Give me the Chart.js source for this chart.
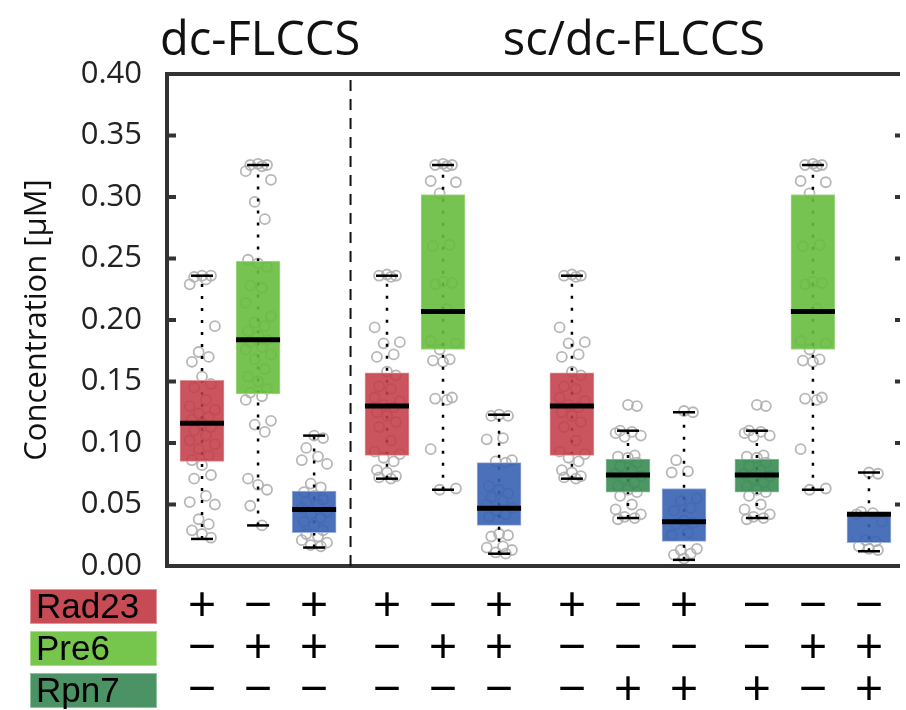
<!DOCTYPE html>
<html>
<head>
<meta charset="utf-8">
<script src="https://cdn.jsdelivr.net/npm/chart.js@4.4.1/dist/chart.umd.min.js"></script>
<style>
    html, body { margin: 0; padding: 0; background: #fff; }
    #wrap { width: 906px; height: 710px; }
</style>
</head>
<body>
<div id="wrap"><canvas id="chart" width="906" height="710"></canvas></div>
<script>
// ---------------------------------------------
// DATA
// ---------------------------------------------
const panelTitles = ["dc-FLCCS", "sc/dc-FLCCS"];
const yTickValues = [0.00, 0.05, 0.10, 0.15, 0.20, 0.25, 0.30, 0.35, 0.40];

// which group each box sits in, and which protein it measures
const boxGroup = [0, 0, 0, 1, 1, 1, 2, 2, 2, 3, 3, 3];
const boxMeasured = ["Rad23", "Pre6", "complex", "Rad23", "Pre6", "complex",
                     "Rad23", "Rpn7", "complex", "Rpn7", "Pre6", "complex"];

// box statistics
const q1          = [0.085, 0.140, 0.027, 0.090, 0.176, 0.033, 0.090, 0.060, 0.020, 0.060, 0.176, 0.019];
const medians     = [0.116, 0.184, 0.046, 0.130, 0.207, 0.047, 0.130, 0.074, 0.036, 0.074, 0.207, 0.042];
const q3          = [0.151, 0.248, 0.061, 0.157, 0.302, 0.084, 0.157, 0.087, 0.063, 0.087, 0.302, 0.042];
const whiskerLow  = [0.022, 0.033, 0.015, 0.071, 0.062, 0.010, 0.071, 0.039, 0.005, 0.039, 0.062, 0.012];
const whiskerHigh = [0.236, 0.326, 0.106, 0.236, 0.326, 0.123, 0.236, 0.110, 0.125, 0.110, 0.326, 0.076];

// individual measurements
const rad23Dc = [0.236, 0.236, 0.235, 0.233, 0.229, 0.195, 0.174, 0.170, 0.166, 0.154, 0.148, 0.145,
                 0.135, 0.130, 0.127, 0.124, 0.121, 0.119, 0.116, 0.113, 0.110, 0.106, 0.102, 0.099,
                 0.095, 0.090, 0.086, 0.082, 0.074, 0.071, 0.057, 0.052, 0.050, 0.038, 0.034, 0.029,
                 0.026, 0.023];
const pre6Dc = [0.327, 0.326, 0.326, 0.325, 0.321, 0.314, 0.296, 0.282, 0.249, 0.246, 0.243, 0.228,
                0.226, 0.214, 0.203, 0.198, 0.195, 0.191, 0.187, 0.184, 0.182, 0.178, 0.176, 0.172,
                0.168, 0.160, 0.154, 0.150, 0.144, 0.141, 0.138, 0.135, 0.118, 0.115, 0.109, 0.071,
                0.066, 0.062, 0.049, 0.033];
const rad23Pre6Dc = [0.106, 0.104, 0.096, 0.089, 0.086, 0.083, 0.067, 0.064, 0.060, 0.057, 0.054, 0.052,
                     0.050, 0.047, 0.044, 0.042, 0.039, 0.036, 0.033, 0.029, 0.026, 0.024, 0.021, 0.019,
                     0.017, 0.016];
const rad23Sc = [0.237, 0.236, 0.236, 0.235, 0.194, 0.182, 0.181, 0.172, 0.170, 0.158, 0.155, 0.146,
                 0.144, 0.137, 0.134, 0.131, 0.129, 0.125, 0.122, 0.117, 0.113, 0.102, 0.093, 0.091,
                 0.088, 0.085, 0.078, 0.076, 0.073, 0.072, 0.071];
const pre6Sc = [0.327, 0.326, 0.326, 0.325, 0.313, 0.312, 0.303, 0.261, 0.260, 0.231, 0.230, 0.229,
                0.209, 0.183, 0.181, 0.176, 0.168, 0.167, 0.166, 0.137, 0.136, 0.135, 0.095, 0.063,
                0.062];
const rad23Pre6Sc = [0.123, 0.122, 0.122, 0.104, 0.103, 0.086, 0.085, 0.084, 0.065, 0.062, 0.059, 0.056,
                     0.053, 0.050, 0.047, 0.045, 0.042, 0.040, 0.026, 0.025, 0.024, 0.016, 0.015, 0.013,
                     0.011, 0.010];
const rpn7Sc = [0.131, 0.130, 0.110, 0.109, 0.108, 0.106, 0.105, 0.090, 0.089, 0.088, 0.084, 0.081,
                0.078, 0.075, 0.073, 0.071, 0.068, 0.065, 0.062, 0.060, 0.057, 0.050, 0.046, 0.042,
                0.040, 0.039, 0.038];
const rad23Rpn7Sc = [0.126, 0.125, 0.086, 0.077, 0.076, 0.055, 0.053, 0.047, 0.045, 0.037, 0.035, 0.034,
                     0.027, 0.025, 0.014, 0.013, 0.010, 0.009, 0.006];
const pre6Rpn7Sc = [0.076, 0.075, 0.044, 0.043, 0.042, 0.036, 0.021, 0.020, 0.016, 0.014, 0.013];

const boxPoints = [rad23Dc, pre6Dc, rad23Pre6Dc, rad23Sc, pre6Sc, rad23Pre6Sc,
                   rad23Sc, rpn7Sc, rad23Rpn7Sc, rpn7Sc, pre6Sc, pre6Rpn7Sc];

// +/- table under the plot
const rowLabels = ["Rad23", "Pre6", "Rpn7"];
const rad23Signs = ["+", "−", "+", "+", "−", "+", "+", "−", "+", "−", "−", "−"];
const pre6Signs  = ["−", "+", "+", "−", "+", "+", "−", "−", "−", "−", "+", "+"];
const rpn7Signs  = ["−", "−", "−", "−", "−", "−", "−", "+", "+", "+", "−", "+"];

// ---------------------------------------------
// STYLE
// ---------------------------------------------
const COLORS = {
    Rad23:   { fill: "rgba(196, 62, 72, 0.88)",  edge: "#e0959b", label: "#c74b55" },
    Pre6:    { fill: "rgba(104, 188, 62, 0.90)", edge: "#a9dd8f", label: "#76c64e" },
    Rpn7:    { fill: "rgba(58, 140, 84, 0.90)",  edge: "#8fc39f", label: "#4b9364" },
    complex: { fill: "rgba(56, 98, 180, 0.90)",  edge: "#9db3de", label: "#3e66b4" }
};
const JITTER = [0, 0.16, -0.14, 0.07, -0.22, 0.23, -0.06, 0.12, -0.18];
const FONT = "'Open Sans', 'DejaVu Sans', sans-serif";

const positions = boxGroup.map((g, i) => i + 0.3 * g);

// ---------------------------------------------
// BUILD DATASETS
// ---------------------------------------------
const pointData = [];
boxPoints.forEach((vals, i) => {
    vals.forEach((v, k) => pointData.push({ x: positions[i] + JITTER[k % JITTER.length], y: v }));
});

const whiskerData = [];
const capData = [];
positions.forEach((p, i) => {
    whiskerData.push({ x: p, y: whiskerLow[i] }, { x: p, y: whiskerHigh[i] }, { x: p, y: null });
    capData.push({ x: p, y: whiskerLow[i] }, { x: p, y: whiskerHigh[i] });
});

const boxData = positions.map((p, i) => ({ x: p, y: [q1[i], q3[i]] }));
const medianData = positions.map((p, i) => ({ x: p, y: medians[i] }));

// ---------------------------------------------
// DECORATION PLUGIN (frame, ticks, titles, +/- table)
// ---------------------------------------------
const decorPlugin = {
    id: "decor",
    afterDraw(chart) {
        const { ctx, chartArea: a, scales: { x, y } } = chart;
        ctx.save();

        // frame
        ctx.strokeStyle = "#333";
        ctx.lineWidth = 4;
        ctx.beginPath();
        ctx.moveTo(a.right + 2, a.top);
        ctx.lineTo(a.left, a.top);
        ctx.lineTo(a.left, a.bottom);
        ctx.lineTo(a.right + 2, a.bottom);
        ctx.stroke();

        // inward ticks left and right
        y.ticks.forEach(t => {
            const py = y.getPixelForValue(t.value);
            ctx.beginPath();
            ctx.moveTo(a.left, py);
            ctx.lineTo(a.left + 9, py);
            ctx.moveTo(a.right - 3, py);
            ctx.lineTo(a.right + 2, py);
            ctx.stroke();
        });

        // dashed separator between the two panels
        const sepX = x.getPixelForValue((positions[2] + positions[3]) / 2);
        ctx.strokeStyle = "#111";
        ctx.lineWidth = 2;
        ctx.setLineDash([11, 8]);
        ctx.beginPath();
        ctx.moveTo(sepX, a.top + 6);
        ctx.lineTo(sepX, a.bottom);
        ctx.stroke();
        ctx.setLineDash([]);

        // panel titles
        ctx.fillStyle = "#111";
        ctx.font = `47px ${FONT}`;
        ctx.textAlign = "center";
        ctx.textBaseline = "alphabetic";
        const dcCenter = x.getPixelForValue((positions[0] + positions[2]) / 2);
        const scCenter = x.getPixelForValue((positions[3] + positions[11]) / 2);
        ctx.fillText(panelTitles[0], dcCenter + 2, 55);
        ctx.fillText(panelTitles[1], scCenter + 6, 55);

        // +/- table
        const rows = [rad23Signs, pre6Signs, rpn7Signs];
        const rowKeys = ["Rad23", "Pre6", "Rpn7"];
        const rowMid = [606, 648, 690];
        rows.forEach((signs, r) => {
            // coloured label box
            const top = rowMid[r] - 17;
            ctx.fillStyle = COLORS[rowKeys[r]].label;
            ctx.fillRect(30, top, 127, 35);
            ctx.strokeStyle = COLORS[rowKeys[r]].edge;
            ctx.lineWidth = 1;
            ctx.strokeRect(30.5, top + 0.5, 126, 34);
            ctx.fillStyle = "#000";
            ctx.font = "35px 'Liberation Sans', Arial, sans-serif";
            ctx.textAlign = "left";
            ctx.textBaseline = "middle";
            ctx.fillText(rowLabels[r], 36, rowMid[r] + 2);

            ctx.font = `50px ${FONT}`;
            ctx.textAlign = "center";
            signs.forEach((s, i) => {
                ctx.fillText(s, x.getPixelForValue(positions[i]), rowMid[r] + 2);
            });
        });

        ctx.restore();
    }
};

// ---------------------------------------------
// CHART
// ---------------------------------------------
function initChart() {
    const canvas = document.getElementById("chart");

    new Chart(canvas.getContext("2d"), {
        type: "bar",
        data: {
            datasets: [
                {
                    type: "scatter",
                    label: "points",
                    data: pointData,
                    pointRadius: 5,
                    pointBorderWidth: 1.8,
                    pointBorderColor: "rgba(175, 175, 175, 0.9)",
                    pointBackgroundColor: "rgba(0, 0, 0, 0)",
                    order: 6
                },
                {
                    type: "line",
                    label: "whiskers",
                    data: whiskerData,
                    borderColor: "#000",
                    borderWidth: 2.5,
                    borderDash: [3, 9],
                    pointRadius: 0,
                    spanGaps: false,
                    fill: false,
                    order: 5
                },
                {
                    type: "bar",
                    label: "boxes",
                    data: boxData,
                    backgroundColor: boxMeasured.map(m => COLORS[m].fill),
                    borderColor: boxMeasured.map(m => COLORS[m].edge),
                    borderWidth: 1,
                    borderSkipped: false,
                    barThickness: 44,
                    grouped: false,
                    order: 4
                },
                {
                    type: "scatter",
                    label: "caps",
                    data: capData,
                    pointStyle: "line",
                    pointRadius: 11,
                    pointBorderWidth: 2.5,
                    pointBorderColor: "#000",
                    order: 2
                },
                {
                    type: "scatter",
                    label: "medians",
                    data: medianData,
                    pointStyle: "line",
                    pointRadius: 22,
                    pointBorderWidth: 5,
                    pointBorderColor: "#000",
                    order: 1
                }
            ]
        },
        options: {
            responsive: false,
            animation: false,
            events: [],
            layout: { autoPadding: false, padding: { top: 74, bottom: 144, left: 0, right: 8 } },
            plugins: {
                legend: { display: false },
                tooltip: { enabled: false }
            },
            scales: {
                x: {
                    type: "linear",
                    display: false,
                    offset: false,
                    min: -0.625,
                    max: 12.418
                },
                y: {
                    min: 0,
                    max: 0.4,
                    afterBuildTicks: scale => {
                        scale.ticks = yTickValues.map(v => ({ value: v }));
                    },
                    afterFit: scale => { scale.width = 167; },
                    grid: { display: false, drawTicks: false },
                    border: { display: false },
                    ticks: {
                        padding: 25,
                        color: "#222",
                        font: { family: FONT, size: 31 },
                        callback: v => v.toFixed(2)
                    },
                    title: {
                        display: true,
                        text: "Concentration [μM]",
                        color: "#111",
                        font: { family: FONT, size: 31 },
                        padding: { top: 19, bottom: 0 }
                    }
                }
            }
        },
        plugins: [decorPlugin]
    });
}

document.addEventListener("DOMContentLoaded", () => {
    initChart();
});
</script>
</body>
</html>
